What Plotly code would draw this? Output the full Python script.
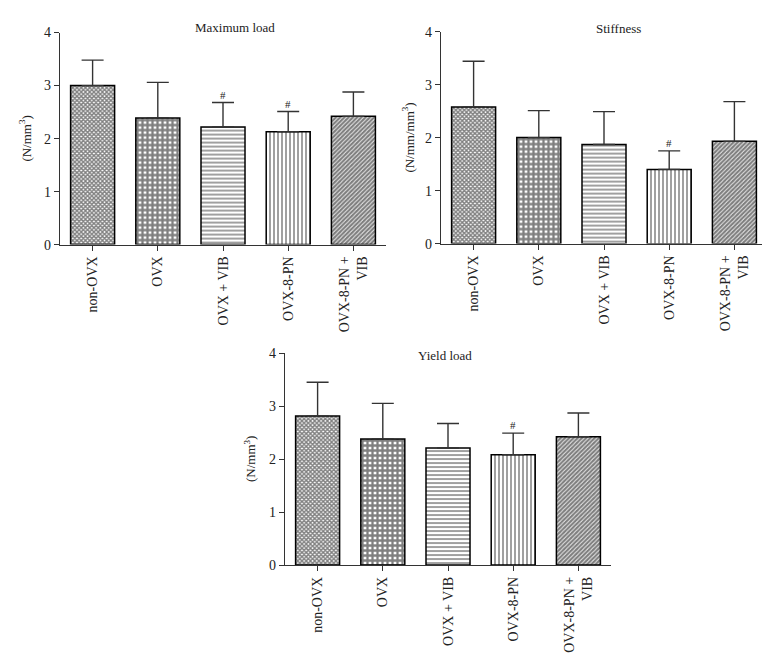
import plotly.graph_objects as go

categories = ["non-OVX", "OVX", "OVX + VIB", "OVX-8-PN", "OVX-8-PN +<br>VIB"]

max_load_mean = [3.00, 2.39, 2.22, 2.13, 2.42]
max_load_top = [3.48, 3.06, 2.68, 2.51, 2.88]
max_load_hash = [False, False, True, True, False]

stiff_mean = [2.58, 2.00, 1.87, 1.40, 1.93]
stiff_top = [3.44, 2.51, 2.49, 1.75, 2.68]
stiff_hash = [False, False, False, True, False]

yield_mean = [2.81, 2.38, 2.21, 2.08, 2.42]
yield_top = [3.45, 3.05, 2.67, 2.49, 2.87]
yield_hash = [False, False, False, True, False]

y_ticks = [0, 1, 2, 3, 4]

patterns = [
    dict(shape="x", size=3, solidity=0.7, fgcolor="black", bgcolor="white"),
    dict(shape="+", size=5, solidity=0.7, fgcolor="black", bgcolor="white"),
    dict(shape="-", size=4, solidity=0.4, fgcolor="#111", bgcolor="white"),
    dict(shape="|", size=4, solidity=0.4, fgcolor="#111", bgcolor="white"),
    dict(shape="/", size=3, solidity=0.75, fgcolor="black", bgcolor="white"),
]

FONT = "Liberation Serif"
W, H = 770, 653

panels = [
    dict(title="Maximum load", ytitle="(N/mm<sup>3</sup>)", mean=max_load_mean, top=max_load_top,
         hashes=max_load_hash, x0=52, y0=18, y1=235, title_x=227, title_y=13, ytitle_x=17),
    dict(title="Stiffness", ytitle="(N/mm/mm<sup>3</sup>)", mean=stiff_mean, top=stiff_top,
         hashes=stiff_hash, x0=433, y0=17, y1=234, title_x=610, title_y=14, ytitle_x=400),
    dict(title="Yield load", ytitle="(N/mm<sup>3</sup>)", mean=yield_mean, top=yield_top,
         hashes=yield_hash, x0=277, y0=346, y1=563, title_x=437, title_y=348, ytitle_x=242),
]
PANEL_W = 326

fig = go.Figure()
annotations = []
for i, p in enumerate(panels):
    ax = "" if i == 0 else str(i + 1)
    xa, ya = "x" + ax, "y" + ax
    err_plus = [t - m for t, m in zip(p["top"], p["mean"])]
    for j, cat in enumerate(categories):
        fig.add_trace(go.Bar(
            x=[cat], y=[p["mean"][j]], xaxis=xa, yaxis=ya, width=0.675,
            marker=dict(color="white", pattern=patterns[j],
                        line=dict(color="black", width=1.5)),
            error_y=dict(type="data", array=[err_plus[j]], arrayminus=[0], symmetric=False,
                         color="#333", thickness=1.4, width=11),
            showlegend=False,
        ))
        if p["hashes"][j]:
            annotations.append(dict(x=cat, y=p["top"][j], xref=xa, yref=ya, text="#",
                                    showarrow=False, yanchor="bottom", yshift=0,
                                    font=dict(family=FONT, size=11, color="#222")))
    dom_x = [p["x0"] / W, (p["x0"] + PANEL_W) / W]
    dom_y = [(H - p["y1"]) / H, (H - p["y0"]) / H]
    xkey = "xaxis" + ax
    ykey = "yaxis" + ax
    fig.update_layout(**{
        xkey: dict(domain=dom_x, anchor=ya, type="category", categoryorder="array",
                   categoryarray=categories, range=[-0.5, 4.5], tickangle=-90,
                   showline=True, linecolor="#333", linewidth=1.4, ticks="outside",
                   ticklen=5, tickcolor="#333", tickwidth=1.4, showgrid=False,
                   tickfont=dict(family=FONT, size=14, color="#222")),
        ykey: dict(domain=dom_y, anchor=xa, range=[0, 4], tickvals=y_ticks,
                   showline=True, linecolor="#333", linewidth=1.4, ticks="outside",
                   ticklen=5, tickcolor="#333", tickwidth=1.4, showgrid=False,
                   zeroline=False, tickfont=dict(family=FONT, size=14, color="#222")),
    })
    annotations.append(dict(x=p["title_x"] / W, y=1 - p["title_y"] / H, xref="paper", yref="paper",
                            text=p["title"], showarrow=False, xanchor="center", yanchor="middle",
                            font=dict(family=FONT, size=13, color="#222")))
    annotations.append(dict(x=p["ytitle_x"] / W, y=1 - ((p["y0"] + p["y1"]) / 2) / H,
                            xref="paper", yref="paper", text=p["ytitle"], textangle=-90,
                            showarrow=False, xanchor="center", yanchor="middle",
                            font=dict(family=FONT, size=13, color="#222")))

fig.update_layout(width=W, height=H, margin=dict(l=0, r=0, t=0, b=0),
                  paper_bgcolor="white", plot_bgcolor="white", bargap=0.325,
                  annotations=annotations)

fig.write_html("out.html")
